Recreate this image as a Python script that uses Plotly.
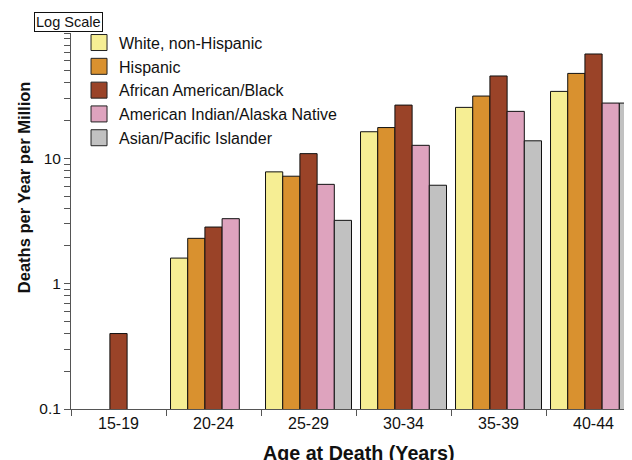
import plotly.graph_objects as go

categories = ["15-19", "20-24", "25-29", "30-34", "35-39", "40-44"]
series_names = ["White, non-Hispanic", "Hispanic", "African American/Black",
                "American Indian/Alaska Native", "Asian/Pacific Islander"]
white = [None, 1.6, 7.8, 16.3, 25.5, 34.2]
hispanic = [None, 2.3, 7.2, 17.6, 31.4, 47.6]
black = [0.4, 2.83, 10.9, 26.6, 45.4, 68.0]
amind = [None, 3.3, 6.2, 12.7, 23.7, 27.6]
asian = [None, None, 3.2, 6.1, 13.8, 27.6]
colors = ["#F6EE94", "#D9912F", "#9A4328", "#DEA3BE", "#C1C1C1"]

y_tick_vals = [0.1, 1, 10, 100]
y_tick_text = ["0.1", "1", "10", ""]

series = [white, hispanic, black, amind, asian]

fig = go.Figure()
for name, vals, col in zip(series_names, series, colors):
    fig.add_trace(go.Bar(x=categories, y=vals, name=name, showlegend=False,
                         marker=dict(color=col, line=dict(color="#111111", width=1))))
for name, col in zip(series_names, colors):
    fig.add_trace(go.Scatter(x=[None], y=[None], mode="markers", name=name,
                             marker=dict(symbol="square", size=16, color=col,
                                         line=dict(color="#222222", width=1))))

minor_vals = []
for d in [0.1, 1, 10]:
    for k in range(2, 10):
        minor_vals.append(d * k)

fig.update_layout(
    width=624, height=452,
    margin=dict(l=63, r=0, t=25, b=51, autoexpand=False),
    paper_bgcolor="white", plot_bgcolor="white",
    barmode="group", bargap=0.095, bargroupgap=0,
    font=dict(family="Liberation Sans, Arial, sans-serif", color="#111111"),
    showlegend=True,
    legend=dict(x=0.0143, y=1.0196, xanchor="left", yanchor="top",
                font=dict(size=16, color="#111111"), bgcolor="rgba(0,0,0,0)",
                traceorder="normal"),
    xaxis=dict(type="category", range=[-0.5, 5.405], tickson="boundaries",
               showline=True, linecolor="#555555", linewidth=1,
               ticks="outside", ticklen=6, tickcolor="#555555",
               tickfont=dict(size=16, color="#111111"), showgrid=False,
               zeroline=False, automargin=False),
    yaxis=dict(type="log", range=[-1, 2], showline=True, linecolor="#555555",
               linewidth=1, ticks="outside", ticklen=6, tickcolor="#555555",
               tickvals=y_tick_vals, ticktext=y_tick_text,
               tickfont=dict(size=15.5, color="#111111"), showgrid=False,
               zeroline=False, automargin=False,
               minor=dict(tickvals=minor_vals, ticks="outside", ticklen=6,
                          tickcolor="#555555", showgrid=False)),
    annotations=[
        dict(text="<b>Age at Death (Years)</b>", xref="paper", yref="paper",
             x=0.5116, y=-0.1157, xanchor="center", yanchor="middle",
             showarrow=False, font=dict(size=19.7, color="#111111")),
        dict(text="<b>Deaths per Year per Million</b>", xref="paper", yref="paper",
             x=-0.0838, y=0.590, xanchor="center", yanchor="middle", textangle=-90,
             showarrow=False, font=dict(size=16.5, color="#111111")),
        dict(text="Log Scale", xref="paper", yref="paper", x=-0.0053, y=1.029,
             xanchor="center", yanchor="middle", showarrow=False,
             font=dict(size=14.5, color="#111111"), bordercolor="#111111",
             borderwidth=1, borderpad=1, bgcolor="white"),
    ],
)

fig.write_html("out.html")
